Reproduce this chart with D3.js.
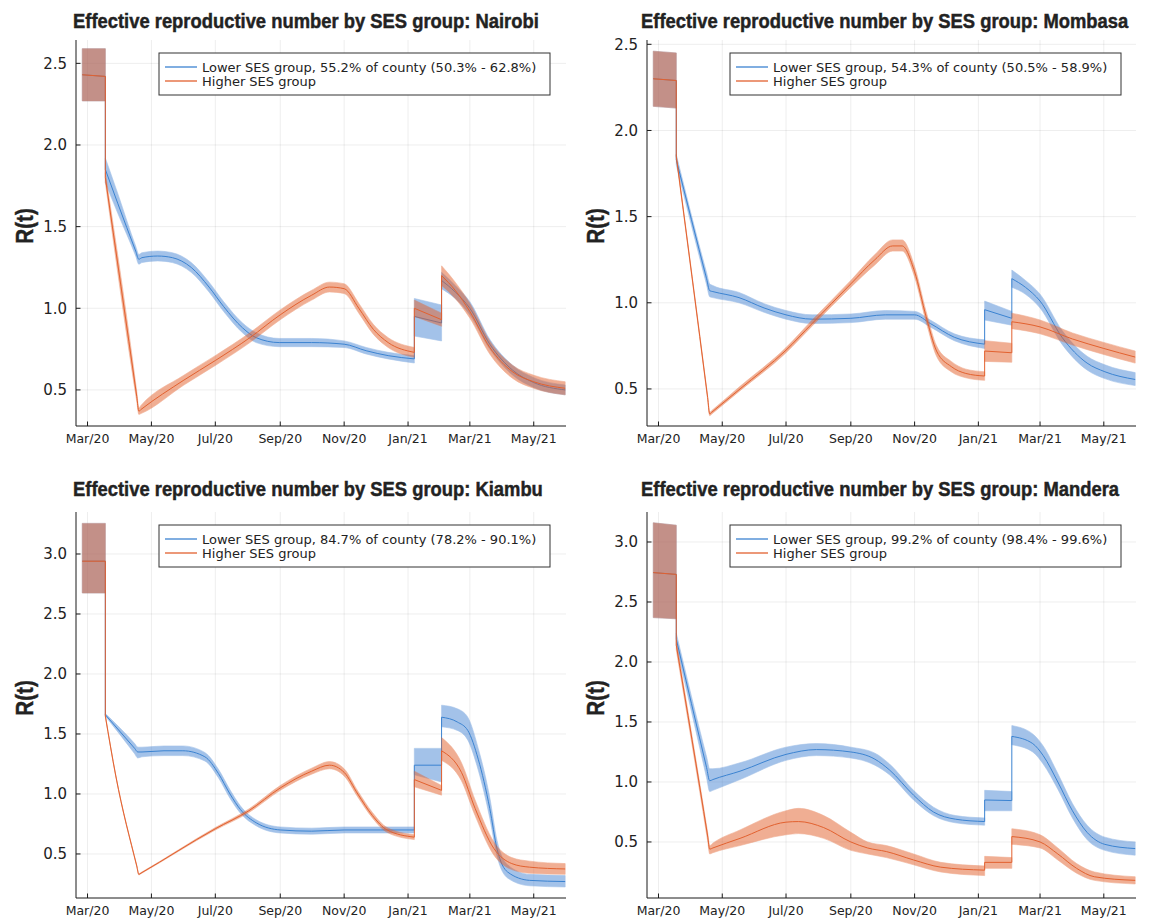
<!DOCTYPE html>
<html><head><meta charset="utf-8">
<script src="https://cdn.jsdelivr.net/npm/d3@7"></script>
<style>body{margin:0;background:#fff}</style>
</head><body><svg id="c" width="1150" height="918"></svg>
<script>
const counties = ["Nairobi", "Mombasa", "Kiambu", "Mandera"];
const lowerLabels = [
  "Lower SES group, 55.2% of county (50.3% - 62.8%)",
  "Lower SES group, 54.3% of county (50.5% - 58.9%)",
  "Lower SES group, 84.7% of county (78.2% - 90.1%)",
  "Lower SES group, 99.2% of county (98.4% - 99.6%)"
];
const higherLabel = "Higher SES group";
const xTickDates = ["2020-03-01","2020-05-01","2020-07-01","2020-09-01","2020-11-01","2021-01-01","2021-03-01","2021-05-01"];
const yDomains = [[0.279, 2.643], [0.285, 2.525], [0.133, 3.35], [0.033, 3.25]];
const yTicksTop = [0.5, 1.0, 1.5, 2.0, 2.5];
const yTicksBottom = [0.5, 1.0, 1.5, 2.0, 2.5, 3.0];

// rows: [date, mean, lower, upper]; a repeated date marks a jump
const nairobiLower = [
  ["2020-02-25",2.43,2.27,2.59],["2020-03-18",2.42,2.27,2.59],
  ["2020-03-18",1.85,1.77,1.92],["2020-03-30",1.64,1.58,1.70],["2020-04-16",1.35,1.32,1.38],
  ["2020-04-19",1.30,1.27,1.33],
  ["2020-04-22",1.31,1.28,1.34],["2020-05-07",1.32,1.29,1.35],["2020-05-21",1.31,1.28,1.34],
  ["2020-06-08",1.25,1.22,1.28],["2020-06-25",1.13,1.10,1.16],["2020-07-09",1.01,0.98,1.04],
  ["2020-07-27",0.88,0.85,0.91],["2020-08-09",0.82,0.79,0.85],["2020-08-31",0.79,0.765,0.815],
  ["2020-10-01",0.79,0.765,0.815],["2020-11-01",0.78,0.76,0.80],["2020-11-22",0.74,0.72,0.76],
  ["2020-12-13",0.71,0.69,0.73],["2021-01-07",0.69,0.665,0.71],
  ["2021-01-07",0.95,0.83,1.06],["2021-02-02",0.91,0.80,1.02],
  ["2021-02-02",1.17,1.12,1.22],["2021-02-15",1.10,1.06,1.14],["2021-03-01",1.00,0.96,1.04],
  ["2021-03-20",0.78,0.75,0.81],["2021-04-11",0.62,0.59,0.65],["2021-05-01",0.545,0.515,0.575],
  ["2021-05-31",0.50,0.47,0.53]
];
const nairobiHigher = [
  ["2020-02-25",2.43,2.27,2.59],["2020-03-18",2.42,2.27,2.59],
  ["2020-03-18",1.80,1.77,1.83],["2020-04-17",0.46,0.43,0.49],["2020-04-19",0.37,0.35,0.39],
  ["2020-04-21",0.38,0.355,0.405],["2020-06-01",0.56,0.53,0.59],["2020-07-01",0.68,0.65,0.71],
  ["2020-08-03",0.82,0.79,0.85],["2020-09-01",0.96,0.93,0.99],["2020-10-01",1.08,1.05,1.11],
  ["2020-10-18",1.13,1.10,1.16],["2020-11-01",1.12,1.09,1.15],["2020-11-15",1.00,0.97,1.03],
  ["2020-11-29",0.87,0.84,0.90],["2020-12-13",0.79,0.76,0.82],["2021-01-07",0.73,0.70,0.76],
  ["2021-01-07",1.00,0.95,1.05],["2021-02-02",0.93,0.89,0.97],
  ["2021-02-02",1.20,1.14,1.26],["2021-02-15",1.11,1.06,1.16],["2021-03-01",0.98,0.94,1.03],
  ["2021-03-20",0.76,0.72,0.80],["2021-04-11",0.61,0.57,0.65],["2021-05-01",0.55,0.51,0.59],
  ["2021-05-31",0.51,0.47,0.55]
];
const mombasaLower = [
  ["2020-02-25",2.30,2.14,2.46],["2020-03-18",2.29,2.13,2.45],
  ["2020-03-18",1.83,1.80,1.86],["2020-04-16",1.14,1.105,1.175],["2020-04-19",1.07,1.035,1.11],
  ["2020-04-22",1.065,1.03,1.10],
  ["2020-05-17",1.03,1.00,1.06],["2020-06-10",0.97,0.945,0.995],["2020-07-01",0.93,0.905,0.955],
  ["2020-07-26",0.905,0.88,0.93],["2020-09-01",0.91,0.885,0.935],["2020-10-04",0.93,0.905,0.955],
  ["2020-11-01",0.93,0.905,0.95],["2020-11-16",0.88,0.86,0.90],["2020-12-09",0.80,0.78,0.82],
  ["2021-01-07",0.76,0.735,0.785],
  ["2021-01-07",0.96,0.90,1.01],["2021-02-02",0.91,0.87,0.95],
  ["2021-02-02",1.14,1.09,1.19],["2021-02-15",1.09,1.05,1.13],["2021-03-01",1.01,0.97,1.05],
  ["2021-03-22",0.80,0.76,0.84],["2021-04-15",0.65,0.61,0.69],["2021-05-02",0.60,0.56,0.64],
  ["2021-05-31",0.555,0.52,0.595]
];
const mombasaHigher = [
  ["2020-02-25",2.30,2.14,2.46],["2020-03-18",2.29,2.13,2.45],
  ["2020-03-18",1.85,1.84,1.86],["2020-04-17",0.45,0.44,0.46],["2020-04-19",0.355,0.345,0.365],
  ["2020-04-21",0.365,0.355,0.375],["2020-05-18",0.50,0.49,0.515],["2020-07-01",0.725,0.71,0.74],
  ["2020-07-26",0.88,0.865,0.90],["2020-09-01",1.11,1.09,1.13],["2020-09-24",1.25,1.22,1.28],
  ["2020-10-11",1.33,1.30,1.365],["2020-10-20",1.33,1.30,1.365],["2020-11-01",1.18,1.15,1.21],
  ["2020-11-12",0.92,0.89,0.95],["2020-11-22",0.72,0.69,0.75],["2020-12-06",0.63,0.60,0.66],
  ["2020-12-20",0.59,0.565,0.615],["2021-01-07",0.575,0.55,0.60],
  ["2021-01-07",0.72,0.66,0.78],["2021-02-02",0.71,0.655,0.765],
  ["2021-02-02",0.89,0.85,0.94],["2021-03-01",0.86,0.82,0.90],["2021-04-01",0.79,0.755,0.825],
  ["2021-05-01",0.735,0.70,0.77],["2021-05-31",0.685,0.65,0.72]
];
const kiambuLower = [
  ["2020-02-25",2.94,2.675,3.255],["2020-03-18",2.94,2.675,3.255],
  ["2020-03-18",1.66,1.65,1.67],["2020-04-15",1.38,1.335,1.42],["2020-04-18",1.35,1.30,1.39],
  ["2020-04-22",1.35,1.31,1.39],["2020-05-13",1.36,1.32,1.40],["2020-05-31",1.36,1.32,1.40],
  ["2020-06-21",1.31,1.275,1.345],["2020-07-04",1.17,1.135,1.205],["2020-07-15",1.00,0.965,1.035],
  ["2020-07-25",0.87,0.84,0.90],["2020-08-09",0.76,0.735,0.785],["2020-09-01",0.70,0.675,0.725],
  ["2020-10-01",0.69,0.665,0.715],["2020-11-01",0.70,0.675,0.725],["2020-12-06",0.70,0.675,0.725],
  ["2021-01-07",0.70,0.675,0.725],
  ["2021-01-07",1.24,1.16,1.38],["2021-02-02",1.24,1.10,1.38],
  ["2021-02-02",1.64,1.56,1.74],["2021-02-17",1.60,1.53,1.71],["2021-02-27",1.53,1.45,1.64],
  ["2021-03-09",1.29,1.20,1.38],["2021-03-20",0.88,0.80,0.97],["2021-03-27",0.54,0.48,0.61],
  ["2021-04-06",0.35,0.30,0.41],["2021-04-27",0.28,0.235,0.33],["2021-05-31",0.27,0.225,0.32]
];
const kiambuHigher = [
  ["2020-02-25",2.94,2.675,3.255],["2020-03-18",2.94,2.675,3.255],
  ["2020-03-18",1.65,1.645,1.655],["2020-03-28",1.15,1.145,1.155],["2020-04-17",0.40,0.395,0.405],
  ["2020-04-19",0.33,0.325,0.335],["2020-04-21",0.34,0.335,0.345],["2020-07-01",0.71,0.70,0.72],
  ["2020-08-02",0.86,0.845,0.875],["2020-09-01",1.05,1.03,1.07],["2020-10-01",1.19,1.165,1.215],
  ["2020-10-18",1.24,1.21,1.27],["2020-11-01",1.18,1.15,1.21],["2020-11-14",1.00,0.975,1.025],
  ["2020-11-28",0.82,0.80,0.845],["2020-12-12",0.70,0.68,0.72],["2021-01-07",0.64,0.62,0.66],
  ["2021-01-07",1.12,1.06,1.19],["2021-02-02",1.03,0.99,1.07],
  ["2021-02-02",1.36,1.28,1.47],["2021-02-21",1.18,1.11,1.26],["2021-03-06",0.88,0.82,0.95],
  ["2021-03-24",0.545,0.49,0.60],["2021-04-10",0.42,0.37,0.47],["2021-04-27",0.39,0.34,0.44],
  ["2021-05-31",0.375,0.33,0.42]
];
const manderaLower = [
  ["2020-02-25",2.745,2.37,3.16],["2020-03-18",2.73,2.36,3.14],
  ["2020-03-18",2.19,2.14,2.24],["2020-04-16",1.12,1.035,1.21],["2020-04-19",1.01,0.92,1.11],
  ["2020-04-22",1.02,0.93,1.11],["2020-05-18",1.09,1.02,1.16],["2020-07-01",1.23,1.18,1.29],
  ["2020-07-30",1.27,1.22,1.32],["2020-09-01",1.25,1.20,1.29],["2020-09-24",1.19,1.14,1.24],
  ["2020-10-08",1.10,1.06,1.15],["2020-10-31",0.89,0.85,0.93],["2020-11-19",0.75,0.72,0.79],
  ["2020-12-10",0.69,0.66,0.72],["2021-01-07",0.67,0.64,0.70],
  ["2021-01-07",0.85,0.76,0.93],["2021-02-02",0.845,0.76,0.92],
  ["2021-02-02",1.38,1.31,1.47],["2021-02-22",1.32,1.25,1.40],["2021-03-04",1.22,1.15,1.30],
  ["2021-03-18",1.00,0.94,1.07],["2021-04-01",0.76,0.70,0.82],["2021-04-15",0.58,0.52,0.64],
  ["2021-05-02",0.48,0.43,0.54],["2021-05-31",0.445,0.39,0.50]
];
const manderaHigher = [
  ["2020-02-25",2.745,2.37,3.16],["2020-03-18",2.73,2.36,3.14],
  ["2020-03-18",2.14,2.10,2.18],["2020-04-17",0.55,0.51,0.58],["2020-04-19",0.44,0.40,0.47],
  ["2020-04-22",0.45,0.41,0.49],["2020-05-18",0.53,0.47,0.60],["2020-07-01",0.665,0.56,0.76],
  ["2020-07-13",0.67,0.57,0.78],["2020-08-06",0.62,0.53,0.72],["2020-09-01",0.50,0.43,0.58],
  ["2020-09-17",0.45,0.40,0.50],["2020-10-05",0.42,0.37,0.47],["2020-10-31",0.35,0.31,0.40],
  ["2020-11-26",0.29,0.25,0.33],["2021-01-07",0.265,0.22,0.30],
  ["2021-01-07",0.33,0.28,0.38],["2021-02-02",0.33,0.28,0.37],
  ["2021-02-02",0.545,0.48,0.61],["2021-03-01",0.50,0.45,0.56],["2021-03-18",0.40,0.35,0.45],
  ["2021-04-05",0.28,0.24,0.32],["2021-04-22",0.21,0.18,0.25],["2021-05-31",0.18,0.15,0.21]
];
const lowerSeries = [nairobiLower, mombasaLower, kiambuLower, manderaLower];
const higherSeries = [nairobiHigher, mombasaHigher, kiambuHigher, manderaHigher];

const blueLine = "#3b83d1", blueFill = "#4a86d4";
const orangeLine = "#e2612f", orangeFill = "#e35f2a";
const titleFont = "Liberation Sans, Arial, sans-serif";

const panels = [
  {left: 76, top: 40, w: 490, h: 386, titleY: 27.5, titleX: 73},
  {left: 647, top: 40, w: 489, h: 386, titleY: 27.5, titleX: 641},
  {left: 76, top: 512, w: 490, h: 386, titleY: 496, titleX: 73},
  {left: 647, top: 512, w: 489, h: 386, titleY: 496, titleX: 641}
];

const parse = d3.utcParse("%Y-%m-%d");
const fmt = d3.utcFormat("%b/%y");
const svg = d3.select("#c");

// horizontal condensing factor for the bold title face
const probe = svg.append("text").attr("font-family", titleFont).attr("font-weight", "bold")
  .attr("font-size", 20).text("Effective reproductive number by SES group: " + counties[0]);
const condense = 466 / probe.node().getComputedTextLength();
probe.remove();

function splitSegments(rows) {
  const segs = [[]];
  rows.forEach((r, i) => {
    if (i > 0 && r[0] === rows[i - 1][0]) segs.push([]);
    segs[segs.length - 1].push(r);
  });
  return segs;
}

panels.forEach((p, i) => {
  const x = d3.scaleUtc()
    .domain([new Date(Date.UTC(2020, 1, 19)), new Date(Date.UTC(2021, 4, 31, 19))])
    .range([p.left, p.left + p.w]);
  const y = d3.scaleLinear().domain(yDomains[i]).range([p.top + p.h, p.top]);
  const yt = i < 2 ? yTicksTop : yTicksBottom;
  const xt = xTickDates.map(parse);
  const g = svg.append("g");

  // grid
  g.selectAll(".gx").data(xt).join("line")
    .attr("x1", d => x(d)).attr("x2", d => x(d))
    .attr("y1", p.top).attr("y2", p.top + p.h)
    .attr("stroke", "#000").attr("stroke-opacity", 0.09).attr("stroke-width", 0.8);
  g.selectAll(".gy").data(yt).join("line")
    .attr("x1", p.left).attr("x2", p.left + p.w)
    .attr("y1", d => y(d)).attr("y2", d => y(d))
    .attr("stroke", "#000").attr("stroke-opacity", 0.09).attr("stroke-width", 0.8);

  const clipId = "clip" + i;
  svg.append("clipPath").attr("id", clipId).append("rect")
    .attr("x", p.left).attr("y", p.top).attr("width", p.w).attr("height", p.h);
  const dg = g.append("g").attr("clip-path", `url(#${clipId})`);

  const area = d3.area().x(d => x(parse(d[0]))).y0(d => y(d[2])).y1(d => y(d[3])).curve(d3.curveMonotoneX);
  const line = d3.line().x(d => x(parse(d[0]))).y(d => y(d[1])).curve(d3.curveMonotoneX);

  [[lowerSeries[i], blueFill, blueLine], [higherSeries[i], orangeFill, orangeLine]].forEach(([rows, fc, lc]) => {
    const segs = splitSegments(rows);
    const rg = dg.append("g").attr("opacity", 0.5);
    segs.forEach(s => {
      rg.append("path").attr("d", area(s)).attr("fill", fc).attr("stroke", fc).attr("stroke-width", 0.6);
    });
    const dStr = segs.map((s, k) => { const ds = line(s); return k === 0 ? ds : "L" + ds.slice(1); }).join("");
    dg.append("path").attr("d", dStr).attr("fill", "none").attr("stroke", lc).attr("stroke-width", 1);
  });

  // axes
  const ax = "#1a1a1a";
  g.append("line").attr("x1", p.left).attr("x2", p.left).attr("y1", p.top).attr("y2", p.top + p.h)
    .attr("stroke", ax).attr("stroke-width", 1);
  g.append("line").attr("x1", p.left).attr("x2", p.left + p.w).attr("y1", p.top + p.h).attr("y2", p.top + p.h)
    .attr("stroke", ax).attr("stroke-width", 1);
  g.selectAll(".tx").data(xt).join("line")
    .attr("x1", d => x(d)).attr("x2", d => x(d))
    .attr("y1", p.top + p.h).attr("y2", p.top + p.h - 4.5)
    .attr("stroke", ax).attr("stroke-width", 1);
  g.selectAll(".ty").data(yt).join("line")
    .attr("x1", p.left).attr("x2", p.left + 4.5)
    .attr("y1", d => y(d)).attr("y2", d => y(d))
    .attr("stroke", ax).attr("stroke-width", 1);
  g.selectAll(".lx").data(xt).join("text")
    .attr("x", d => x(d)).attr("y", p.top + p.h + 17)
    .attr("text-anchor", "middle").attr("font-family", "DejaVu Sans").attr("font-size", 12.5)
    .attr("fill", "#222").text(d => fmt(d));
  g.selectAll(".ly").data(yt).join("text")
    .attr("x", p.left - 9).attr("y", d => y(d)).attr("dy", "0.36em")
    .attr("text-anchor", "end").attr("font-family", "DejaVu Sans").attr("font-size", 15)
    .attr("fill", "#222").text(d => d3.format(".1f")(d));

  // y label (condensed bold)
  g.append("text").attr("transform", `translate(${p.left - 43},${p.top + p.h / 2 - 7}) rotate(-90) scale(0.86,1)`)
    .attr("text-anchor", "middle").attr("font-family", titleFont).attr("font-weight", "bold")
    .attr("font-size", 24).attr("fill", "#222").attr("stroke", "#222").attr("stroke-width", 0.4)
    .text("R(t)");

  // title (condensed bold)
  g.append("text").attr("transform", `translate(${p.titleX},${p.titleY}) scale(${condense},1)`)
    .attr("font-family", titleFont).attr("font-weight", "bold").attr("font-size", 20)
    .attr("fill", "#222").attr("stroke", "#222").attr("stroke-width", 0.45)
    .text("Effective reproductive number by SES group: " + counties[i]);

  // legend
  const lx = p.left + 83, ly = p.top + 13;
  g.append("rect").attr("x", lx).attr("y", ly).attr("width", 391).attr("height", 42)
    .attr("fill", "#fff").attr("stroke", "#333").attr("stroke-width", 1);
  [[lowerLabels[i], blueLine], [higherLabel, orangeLine]].forEach(([t, c], k) => {
    const yy = ly + 14 + k * 14;
    g.append("line").attr("x1", lx + 6).attr("x2", lx + 38).attr("y1", yy).attr("y2", yy)
      .attr("stroke", c).attr("stroke-width", 1.3);
    g.append("text").attr("x", lx + 43).attr("y", yy + 4.5)
      .attr("font-family", "DejaVu Sans").attr("font-size", 13).attr("fill", "#222").text(t);
  });
});
</script></body></html>
